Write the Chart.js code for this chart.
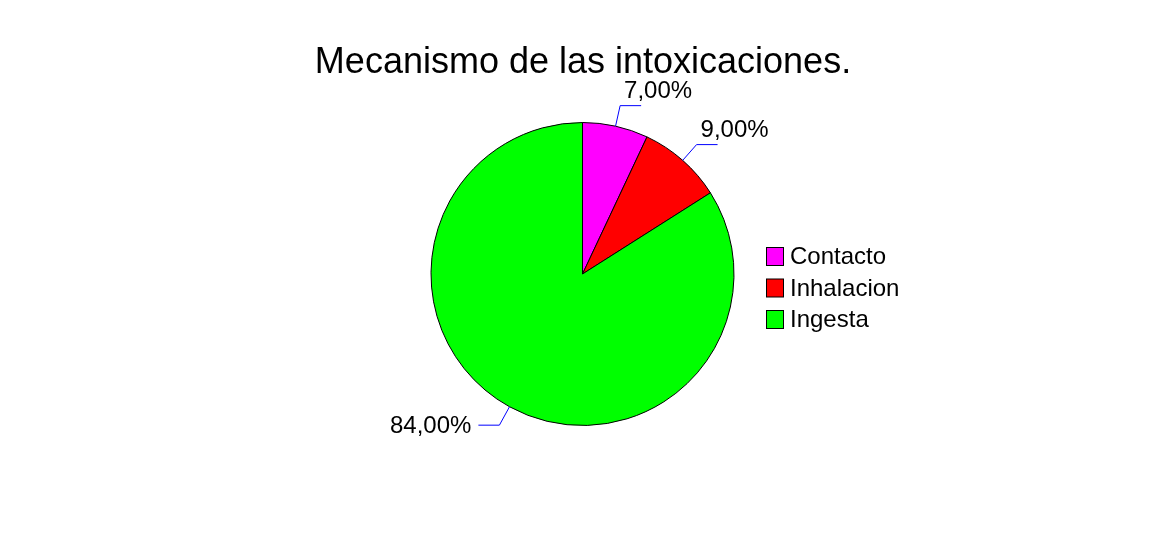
<!DOCTYPE html>
<html>
<head>
<meta charset="utf-8">
<script src="https://cdn.jsdelivr.net/npm/chart.js@4/dist/chart.umd.min.js"></script>
<style>
  html, body { margin: 0; padding: 0; background: #fff; }
  #wrap { width: 1165px; height: 548px; }
</style>
</head>
<body>
<div id="wrap"><canvas id="myChart" width="1165" height="548"></canvas></div>
<script>
const title = 'Mecanismo de las intoxicaciones.';
const categories = ['Contacto', 'Inhalacion', 'Ingesta'];
const percents = [7, 9, 84];
const colors = ['#ff00ff', '#ff0000', '#00ff00'];

const FONT = '"Liberation Sans", Arial, sans-serif';

// title, legend and the % labels with their blue leader lines
const extras = {
  id: 'extras',
  afterDraw(chart) {
    const ctx = chart.ctx;
    ctx.save();

    ctx.fillStyle = '#000';
    ctx.font = '36px ' + FONT;
    ctx.textAlign = 'center';
    ctx.textBaseline = 'alphabetic';
    ctx.fillText(title, 583, 73);

    const arcs = chart.getDatasetMeta(0).data;
    ctx.font = '24px ' + FONT;
    arcs.forEach((arc, i) => {
      const p = arc.getProps(['x', 'y', 'startAngle', 'endAngle', 'outerRadius'], true);
      const mid = (p.startAngle + p.endAngle) / 2;
      const r = p.outerRadius;
      const x0 = p.x + Math.cos(mid) * r, y0 = p.y + Math.sin(mid) * r;
      const x1 = p.x + Math.cos(mid) * (r + 21), y1 = p.y + Math.sin(mid) * (r + 21);
      const right = Math.cos(mid) >= 0;
      const x2 = x1 + (right ? 21 : -21);
      ctx.strokeStyle = '#0000ff';
      ctx.lineWidth = 1;
      ctx.beginPath();
      ctx.moveTo(x0, y0);
      ctx.lineTo(x1, y1);
      ctx.lineTo(x2, y1);
      ctx.stroke();
      const txt = percents[i].toFixed(2).replace('.', ',') + '%';
      ctx.fillStyle = '#000';
      if (right) {
        ctx.textAlign = 'center';
        ctx.textBaseline = 'alphabetic';
        ctx.fillText(txt, x2 + 17, y1 - 8);
      } else {
        ctx.textAlign = 'right';
        ctx.textBaseline = 'middle';
        ctx.fillText(txt, x2 - 7, y1 + 1);
      }
    });

    // legend
    ctx.font = '24px ' + FONT;
    ctx.textAlign = 'left';
    ctx.textBaseline = 'middle';
    categories.forEach((c, i) => {
      const y = 247.5 + i * 31.5;
      ctx.fillStyle = colors[i];
      ctx.fillRect(766.5, y, 17, 18);
      ctx.strokeStyle = '#000';
      ctx.lineWidth = 1;
      ctx.strokeRect(766.5, y, 17, 18);
      ctx.fillStyle = '#000';
      ctx.fillText(c, 790, y + 10);
    });

    ctx.restore();
  }
};

new Chart(document.getElementById('myChart'), {
  type: 'pie',
  data: {
    labels: categories,
    datasets: [{
      data: percents,
      backgroundColor: colors,
      borderColor: '#000',
      borderWidth: 1
    }]
  },
  options: {
    responsive: false,
    animation: false,
    radius: 151.5,
    layout: { padding: 0 },
    plugins: {
      legend: { display: false },
      title: { display: false },
      tooltip: { enabled: false }
    }
  },
  plugins: [extras]
});
</script>
</body>
</html>
